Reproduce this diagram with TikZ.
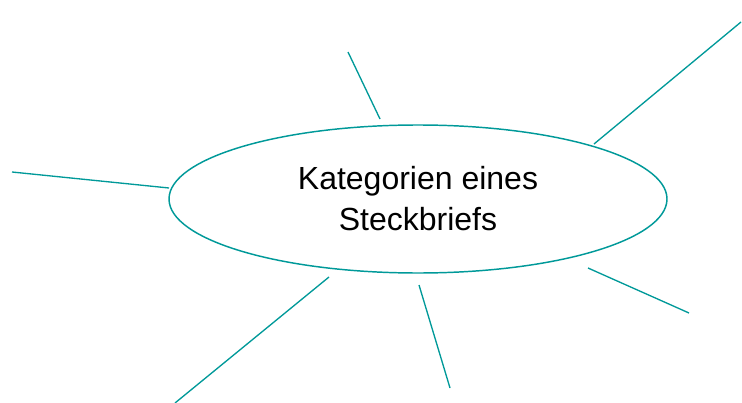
\documentclass[tikz,border=0pt]{standalone}
\usepackage{fontspec}
\setmainfont{Liberation Sans}
\usetikzlibrary{shapes.geometric}
\definecolor{tuerkis}{RGB}{0,153,153}

\begin{document}
\begin{tikzpicture}[
    x=0.75pt, y=-0.75pt,
    zentrum/.style={ellipse, draw=tuerkis, line width=1.1pt, minimum width=373.5pt, minimum height=111pt, inner sep=0pt, align=center, font=\fontsize{24}{30.75}\selectfont},
    ast/.style={draw=tuerkis, line width=1pt}
]
\useasboundingbox (0,0) rectangle (742,403);

% Mitte
\node[zentrum] (kategorien) at (418,199) {Kategorien eines\\Steckbriefs};

% Enden der Striche
\coordinate (n1) at (348,52);   \coordinate (n2) at (380,119);
\coordinate (no1) at (594,144); \coordinate (no2) at (741,22);
\coordinate (w1) at (12,172);   \coordinate (w2) at (169,188);
\coordinate (so1) at (588,268); \coordinate (so2) at (689,313);
\coordinate (s1) at (419,285);  \coordinate (s2) at (450,388);
\coordinate (sw1) at (329,277); \coordinate (sw2) at (175,403);

% Striche
\draw[ast] (n1) -- (n2);
\draw[ast] (no1) -- (no2);
\draw[ast] (w1) -- (w2);
\draw[ast] (so1) -- (so2);
\draw[ast] (s1) -- (s2);
\draw[ast] (sw1) -- (sw2);

\end{tikzpicture}
\end{document}
